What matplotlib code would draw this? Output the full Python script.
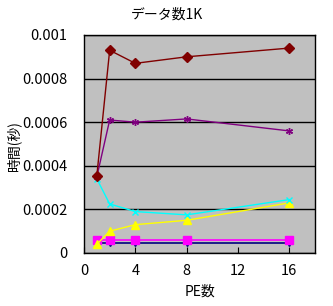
import matplotlib
matplotlib.use('Agg')
import matplotlib.pyplot as plt

plt.rcParams['font.family'] = ['Noto Sans CJK JP', 'DejaVu Sans']

pe = [1, 2, 4, 8, 16]
s_darkred = [0.000355, 0.00093, 0.00087, 0.0009, 0.00094]
s_purple = [0.00035, 0.00061, 0.0006, 0.000615, 0.00056]
s_cyan = [0.00034, 0.000225, 0.00019, 0.000175, 0.000245]
s_yellow = [0.00004, 0.0001, 0.00013, 0.00015, 0.00023]
s_magenta = [0.00006, 0.00006, 0.00006, 0.00006, 0.00006]
s_navy = [0.000045, 0.000045, 0.000045, 0.000045, 0.000045]

xticks = [0, 4, 8, 12, 16]
yticks = [0, 0.0002, 0.0004, 0.0006, 0.0008, 0.001]
ylabels = ['0', '0.0002', '0.0004', '0.0006', '0.0008', '0.001']

fig = plt.figure(figsize=(3.33, 3.06), dpi=100)
ax = fig.add_axes([84 / 333, 1 - 253 / 306, (315 - 84) / 333, (253 - 35) / 306])
ax.set_facecolor('#c0c0c0')

ax.plot(pe, s_navy, color='#000080', marker='v', markersize=5, lw=1.2)
ax.plot(pe, s_magenta, color='#ff00ff', marker='s', markersize=5.5, lw=1.2)
ax.plot(pe, s_yellow, color='#ffff00', marker='^', markersize=6, lw=1)
ax.plot(pe, s_cyan, color='#00ffff', marker='x', markersize=5, lw=1)
ax.plot(pe, s_purple, color='#800080', marker=(6, 2, 0), markersize=5, lw=1)
ax.plot(pe, s_darkred, color='#800000', marker='D', markersize=5, lw=1)

ax.set_xlim(0, 18)
ax.set_ylim(0, 0.001)
ax.set_xticks(xticks)
ax.set_xticklabels([str(t) for t in xticks], fontsize=10.5)
ax.set_yticks(yticks)
ax.set_yticklabels(ylabels, fontsize=10.5)
ax.tick_params(axis='x', direction='in', length=4, color='black', pad=8)
ax.tick_params(axis='y', length=0, pad=12)
ax.yaxis.grid(True, color='black', lw=1)
ax.set_axisbelow(True)
for sp in ax.spines.values():
    sp.set_color('black')
    sp.set_linewidth(1)

fig.text(0.5, 1 - 15 / 306, 'データ数1K', fontsize=10, ha='center', va='center')
fig.text(200 / 333, 1 - 292 / 306, 'PE数', fontsize=10, ha='center', va='center')
fig.text(14 / 333, 1 - 146 / 306, '時間(秒)', fontsize=10,
         rotation=90, ha='center', va='center')

fig.savefig('out.png', dpi=100, facecolor='white')
